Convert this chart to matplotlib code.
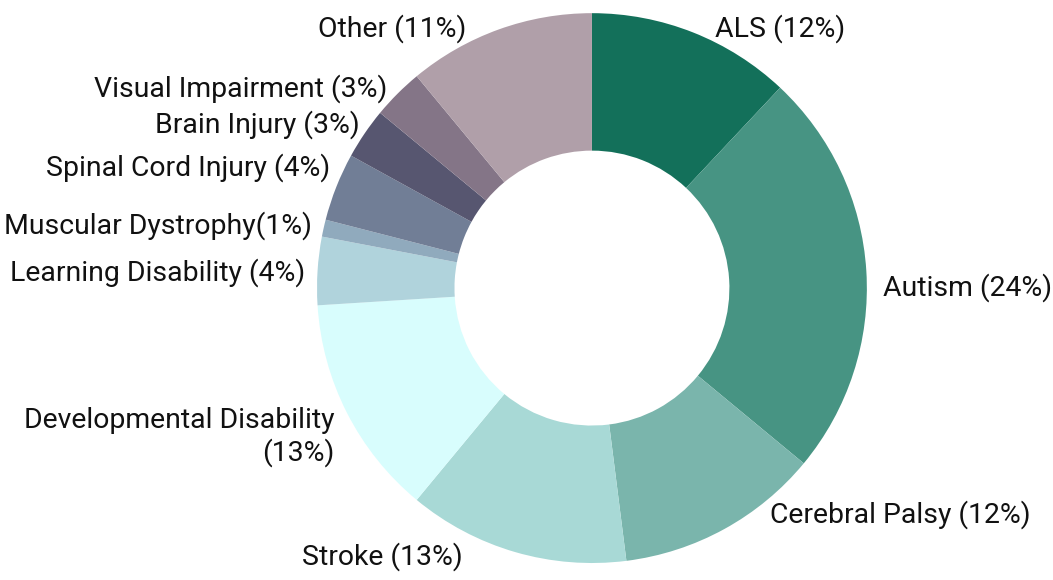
import matplotlib.pyplot as plt

# data
categories = [
    "ALS", "Autism", "Cerebral Palsy", "Stroke", "Developmental Disability",
    "Learning Disability", "Muscular Dystrophy", "Spinal Cord Injury",
    "Brain Injury", "Visual Impairment", "Other",
]
shares = [12, 24, 12, 13, 13, 4, 1, 4, 3, 3, 11]
label_texts = [
    "ALS (12%)", "Autism (24%)", "Cerebral Palsy (12%)", "Stroke (13%)",
    "Developmental Disability\n(13%)", "Learning Disability (4%)",
    "Muscular Dystrophy(1%)", "Spinal Cord Injury (4%)", "Brain Injury (3%)",
    "Visual Impairment (3%)", "Other (11%)",
]
colors = [
    "#13705A", "#479483", "#7AB5AC", "#A8D9D6", "#D8FDFD", "#B0D3DC",
    "#90AABD", "#717E96", "#575670", "#847587", "#B09FA9",
]

# label anchors (data coords, pie radius = 1) and alignment
label_pos = [
    (0.447, 0.945, "left"), (1.058, 0.0, "left"), (0.647, -0.825, "left"),
    (-0.469, -0.978, "right"), (-0.935, -0.542, "right"),
    (-1.044, 0.055, "right"), (-1.018, 0.229, "right"),
    (-0.953, 0.44, "right"), (-0.844, 0.596, "right"),
    (-0.745, 0.727, "right"), (-0.455, 0.945, "right"),
]

plt.rcParams["font.family"] = ["Roboto", "DejaVu Sans"]

fig = plt.figure(figsize=(10.53, 5.8), dpi=100)
ax = fig.add_axes([0.301, 0.0293, 0.5223, 0.948])
ax.pie(
    shares,
    colors=colors,
    startangle=90,
    counterclock=False,
    radius=1,
    wedgeprops=dict(width=0.5, linewidth=0),
)
ax.set_xlim(-1, 1)
ax.set_ylim(-1, 1)
ax.set_aspect("equal")
ax.axis("off")

for txt, (x, y, ha) in zip(label_texts, label_pos):
    ax.text(x, y, txt, ha=ha, va="center", fontsize=20.4, color="#111111",
            multialignment=ha, linespacing=1.22, clip_on=False)

fig.savefig("out.png", dpi=100)
